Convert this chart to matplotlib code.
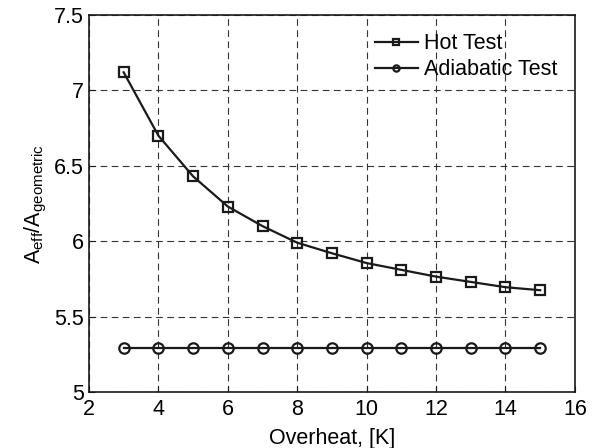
import matplotlib
matplotlib.use("Agg")
import matplotlib.pyplot as plt

overheat = [3, 4, 5, 6, 7, 8, 9, 10, 11, 12, 13, 14, 15]
hot_test = [7.12, 6.70, 6.43, 6.23, 6.10, 5.99, 5.92, 5.855, 5.81, 5.765, 5.73, 5.695, 5.675]
adiabatic_test = [5.295] * len(overheat)

xticks = [2, 4, 6, 8, 10, 12, 14, 16]
yticks = [5, 5.5, 6, 6.5, 7, 7.5]
yticklabels = ["5", "5.5", "6", "6.5", "7", "7.5"]

plt.rcParams["font.family"] = ["Liberation Sans", "DejaVu Sans"]
fs = 15.5

fig = plt.figure(figsize=(5.97, 4.48), dpi=100)
ax = fig.add_axes([0.149, 0.125, 0.814, 0.8415])

ax.plot(overheat, hot_test, color="#1a1a1a", lw=1.6, marker="s", ms=7,
        mfc="none", mew=1.6, label="Hot Test")
ax.plot(overheat, adiabatic_test, color="#1a1a1a", lw=1.6, marker="o", ms=7.5,
        mfc="none", mew=1.6, label="Adiabatic Test")

ax.set_xlim(2, 16)
ax.set_ylim(5, 7.5)
ax.set_xticks(xticks)
ax.set_yticks(yticks)
ax.set_yticklabels(yticklabels)
ax.grid(True, color="#333333", linestyle=(0, (6, 4)), linewidth=0.8)
ax.set_axisbelow(True)
ax.tick_params(direction="in", labelsize=fs, length=4, color="#1a1a1a")
ax.tick_params(axis="x", pad=5)
for sp in ax.spines.values():
    sp.set_linewidth(1.2)
    sp.set_color("#1a1a1a")

ax.set_xlabel("Overheat, [K]", fontsize=fs, labelpad=6)
ax.set_ylabel(r"A$_{\mathregular{eff}}$/A$_{\mathregular{geometric}}$", fontsize=fs,
              labelpad=4)

leg = ax.legend(loc="upper right", bbox_to_anchor=(0.982, 0.975), frameon=False,
                fontsize=fs, handlelength=2.0, handletextpad=0.3,
                borderaxespad=0.0, labelspacing=0.25, markerscale=0.6)

fig.savefig("out.png", dpi=100)
